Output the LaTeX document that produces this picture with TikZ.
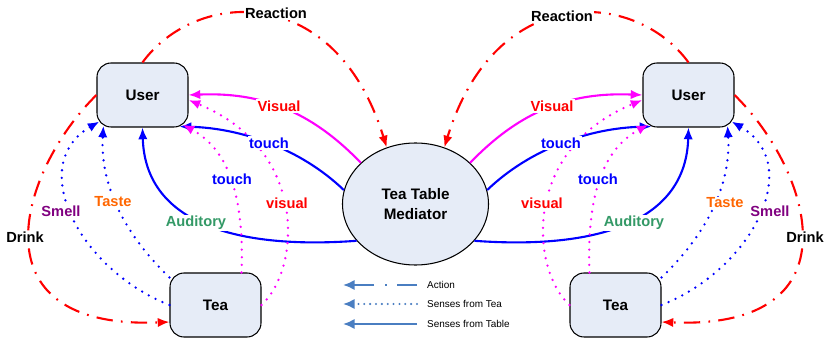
\documentclass[tikz,border=0pt]{standalone}
\usepackage{fontspec}
\setmainfont{Liberation Sans}
\usepackage{xcolor}
\usetikzlibrary{arrows.meta,shapes.geometric}
\definecolor{boxfill}{RGB}{230,236,247}
\definecolor{legblue}{RGB}{74,126,193}
\definecolor{audgreen}{RGB}{51,153,102}
\definecolor{tasteorange}{RGB}{255,102,0}
\definecolor{smellpurple}{RGB}{128,0,128}
\definecolor{vismag}{RGB}{255,0,255}
\newcommand{\lblfont}{\bfseries\fontsize{12.5}{14}\selectfont}

\begin{document}
\begin{tikzpicture}[x=0.03cm, y=-0.03cm,
  font=\bfseries\fontsize{13}{17}\selectfont,
  ent/.style={draw, line width=0.9pt, rounded corners=12pt, fill=boxfill,
              minimum width=2.73cm, minimum height=1.92cm},
  hub/.style={ellipse, draw, line width=0.9pt, fill=boxfill, inner sep=0pt,
              minimum width=4.38cm, minimum height=3.66cm, align=center},
  lbl/.style={fill=white, inner sep=1pt, font=\lblfont},
  act/.style={red, line width=1.8pt,
              dash pattern=on 14pt off 7pt on 1.5pt off 7pt,
              -{Latex[length=10pt,width=8pt]}},
  tbl/.style={line width=1.8pt, -{Latex[length=10pt,width=8pt]}},
  sns/.style={line width=2.2pt, line cap=round, dash pattern=on 0pt off 6.5pt,
              -{Latex[length=10pt,width=8pt]}},
  leg/.style={legblue, line width=2pt, -{Latex[length=10pt,width=9pt]}},
  legtxt/.style={anchor=west, inner sep=0pt,
                 font=\mdseries\fontsize{8.5}{10}\selectfont}]
\useasboundingbox (0,0) rectangle (829,342);

\node[ent] (userL) at (142.5,95) {User};
\node[ent] (teaL) at (215.5,305) {Tea};
\node[hub] (med) at (415.5,204) {Tea Table\\Mediator};
\node[ent] (userR) at (688.5,95) {User};
\node[ent] (teaR) at (615.5,305) {Tea};

% left half
\draw[act] (userL.north) .. controls (195,-10) and (335,-20) .. (med.117);
\draw[act] (userL.west) .. controls (20,170) and (-30,330) .. ([shift={(0,17)}]teaL.west);
\draw[tbl, vismag] (med.143) .. controls (310,110) and (260,92) .. (userL.east);
\draw[tbl, blue] (med.169) .. controls (300,148) and (240,128) .. ([shift={(-9,-1)}]userL.south east);
\draw[tbl, blue] (med.212) .. controls (230,250) and (145,220) .. (userL.south);
\draw[sns, vismag] ([shift={(26,0)}]teaL.north) .. controls (245,180) and (220,145) .. ([shift={(-6,-3)}]userL.south east);
\draw[sns, vismag] (teaL.east) .. controls (300,270) and (310,150) .. ([shift={(0,5)}]userL.east);
\draw[sns, blue] ([shift={(0,5)}]teaL.north west) .. controls (120,230) and (100,180) .. ([shift={(7,-2)}]userL.south west);
\draw[sns, blue] (teaL.west) .. controls (80,270) and (25,165) .. ([shift={(3,-6)}]userL.south west);

% right half
\draw[act] (userR.north) .. controls (636,-10) and (496,-20) .. (med.63);
\draw[act] (userR.east) .. controls (811,170) and (861,330) .. ([shift={(0,17)}]teaR.east);
\draw[tbl, vismag] (med.37) .. controls (521,110) and (571,92) .. (userR.west);
\draw[tbl, blue] (med.11) .. controls (531,148) and (591,128) .. ([shift={(9,-1)}]userR.south west);
\draw[tbl, blue] (med.-32) .. controls (601,250) and (686,220) .. (userR.south);
\draw[sns, vismag] ([shift={(-26,0)}]teaR.north) .. controls (586,180) and (611,145) .. ([shift={(6,-3)}]userR.south west);
\draw[sns, vismag] (teaR.west) .. controls (531,270) and (521,150) .. ([shift={(0,5)}]userR.west);
\draw[sns, blue] ([shift={(0,5)}]teaR.north east) .. controls (711,230) and (731,180) .. ([shift={(-7,-2)}]userR.south east);
\draw[sns, blue] (teaR.east) .. controls (751,270) and (806,165) .. ([shift={(-3,-6)}]userR.south east);

% labels
\node[lbl] (reactL) at (276,13) {Reaction};
\node[lbl] (drinkL) at (25,237) {Drink};
\node[lbl, text=red] (visL) at (279,106) {Visual};
\node[lbl, text=blue] (touchL) at (269,143) {touch};
\node[lbl, text=blue] (touchTL) at (232,179) {touch};
\node[lbl, text=red] (visTL) at (287,203) {visual};
\node[lbl, text=audgreen] (audL) at (196,223) {Auditory};
\node[lbl, text=tasteorange] (tasteL) at (113,202) {Taste};
\node[lbl, text=smellpurple] (smellL) at (61,211) {Smell};

\node[lbl] (reactR) at (562,16) {Reaction};
\node[lbl] (drinkR) at (805,237) {Drink};
\node[lbl, text=red] (visR) at (552,106) {Visual};
\node[lbl, text=blue] (touchR) at (561,143) {touch};
\node[lbl, text=blue] (touchTR) at (598,179) {touch};
\node[lbl, text=red] (visTR) at (542,203) {visual};
\node[lbl, text=audgreen] (audR) at (634,223) {Auditory};
\node[lbl, text=tasteorange] (tasteR) at (725,203) {Taste};
\node[lbl, text=smellpurple] (smellR) at (770,211) {Smell};

% legend
\node[legtxt] (legAct) at (427,285) {Action};
\node[legtxt] (legTea) at (427,304) {Senses from Tea};
\node[legtxt] (legTbl) at (427,324) {Senses from Table};
\coordinate (actS) at (343,285);
\coordinate (actE) at (417,285);
\coordinate (teaS) at (343,304);
\coordinate (teaE) at (417,304);
\coordinate (tblS) at (343,324);
\coordinate (tblE) at (417,324);
\draw[leg, dash pattern=on 17pt off 9pt on 1.5pt off 9pt] (actE) -- (actS);
\draw[leg, line cap=round, dash pattern=on 0pt off 5pt] (teaE) -- (teaS);
\draw[leg] (tblE) -- (tblS);
\end{tikzpicture}
\end{document}
